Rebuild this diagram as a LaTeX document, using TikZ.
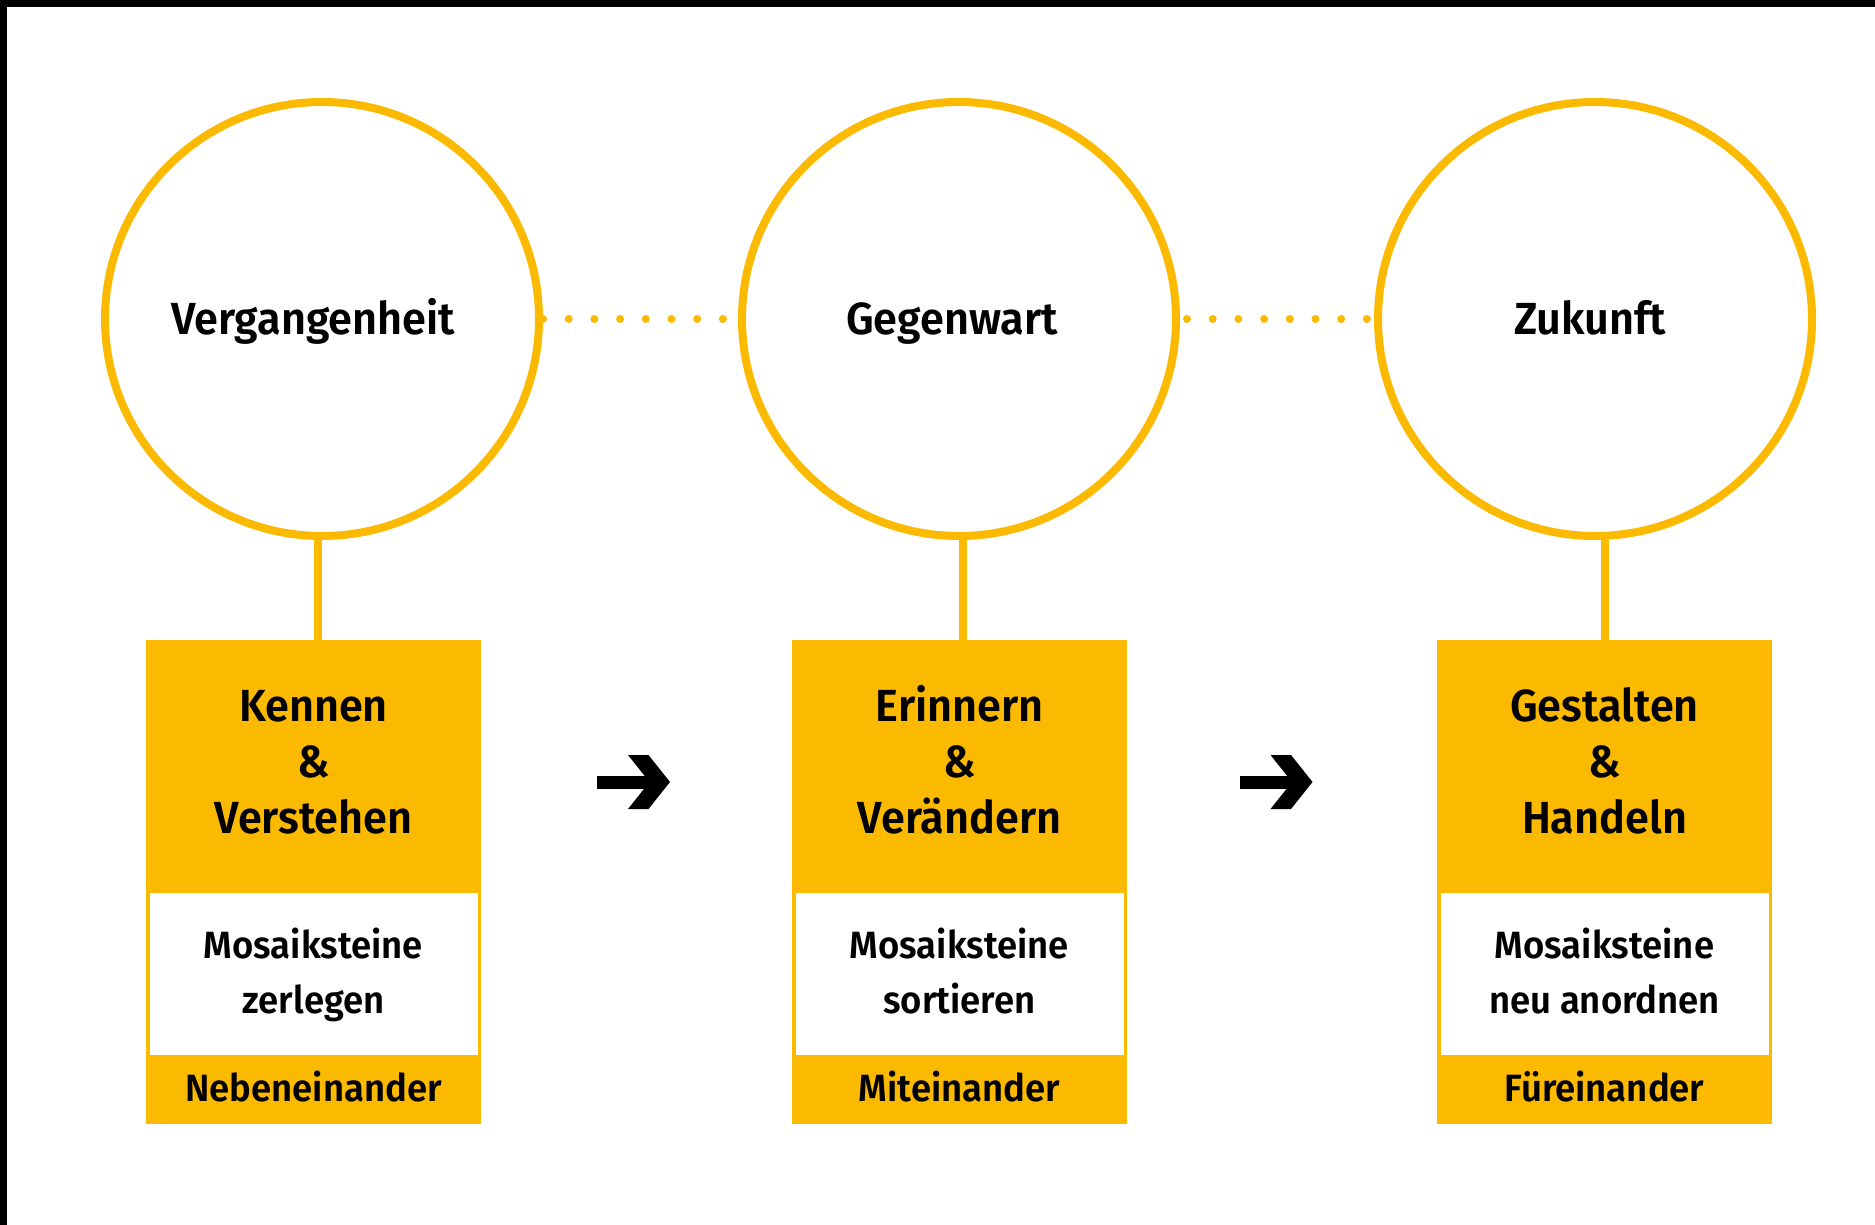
\documentclass[tikz,border=0pt]{standalone}
\usepackage{fontspec}
\setmainfont{Fira Sans}[UprightFont=* SemiBold, FakeStretch=0.96]
\definecolor{gelb}{RGB}{251,186,0}
\begin{document}
\begin{tikzpicture}[x=0.5pt,y=-0.5pt,
  ring/.style={circle,draw=gelb,line width=4pt,minimum size=217pt,inner sep=0pt},
  dots/.style={gelb,line width=4pt,line cap=round,dash pattern=on 0pt off 12.85pt},
  conn/.style={gelb,line width=4pt},
  card/.style={fill=gelb,minimum width=167.5pt,minimum height=242pt,inner sep=0pt,anchor=north west},
  inset/.style={fill=white,minimum width=164pt,minimum height=81pt,inner sep=0pt,anchor=north west},
  bigtxt/.style={font=\fontsize{22.5pt}{28pt}\selectfont,align=center,anchor=base,inner sep=0pt},
  smalltxt/.style={font=\fontsize{19pt}{27.5pt}\selectfont,align=center,anchor=base,inner sep=0pt},
  arrowshape/.style={fill=black}]
\useasboundingbox (0,0) rectangle (1875,1225);
\fill[black] (0,0) rectangle (1875,7);
\fill[black] (0,0) rectangle (7,1225);
% circles
\node[ring] (c1) at (322,319) {};
\node[ring] (c2) at (959,319) {};
\node[ring] (c3) at (1595,319) {};
\node[bigtxt] (t1) at (313,335) {Vergangenheit};
\node[bigtxt] (t2) at (952,335) {Gegenwart};
\node[bigtxt] (t3) at (1590,335) {Zukunft};
\draw[dots] (c1.east) -- (c2.west);
\draw[dots] ([xshift=3.5pt]c2.east) -- (c3.west);
% cards
\node[card] (b1) at (146,640) {};
\node[card] (b2) at (792,640) {};
\node[card] (b3) at (1437,640) {};
\node[inset] (w1) at (150,893) {};
\node[inset] (w2) at (796,893) {};
\node[inset] (w3) at (1441,893) {};
\draw[conn] ([xshift=2.25pt]b1.north) -- ([xshift=2.25pt]b1.north |- c1.south);
\draw[conn] ([xshift=1.75pt]b2.north) -- ([xshift=1.75pt]b2.north |- c2.south);
\draw[conn] (b3.north) -- (b3.north |- c3.south);
% texts (base anchor = baseline of last line)
\node[bigtxt] (k1) at (313.5,833) {Kennen\\\&\\Verstehen};
\node[bigtxt] (k2) at (959.5,833) {Erinnern\\\&\\Verändern};
\node[bigtxt] (k3) at (1604.5,833) {Gestalten\\\&\\Handeln};
\node[smalltxt] (m1) at (313.5,1013) {Mosaiksteine\\zerlegen};
\node[smalltxt] (m2) at (959.5,1013) {Mosaiksteine\\sortieren};
\node[smalltxt] (m3) at (1604.5,1013) {Mosaiksteine\\neu anordnen};
\node[smalltxt] (n1) at (313.5,1101) {Nebeneinander};
\node[smalltxt] (n2) at (959.5,1101) {Miteinander};
\node[smalltxt] (n3) at (1604.5,1101) {Füreinander};
% arrows
\coordinate (a1) at (633.5,782);
\coordinate (a2) at (1276,782);
\foreach \a in {a1,a2}{
  \fill[arrowshape,shift={(\a)}] (-36.5,-6.5) rectangle (26,6.5);
  \fill[arrowshape,shift={(\a)}] (-5.5,-27) -- (15,-27) -- (36.5,0) -- (15,27) -- (-5.5,27) -- (16,0) -- cycle;
}
\end{tikzpicture}
\end{document}
